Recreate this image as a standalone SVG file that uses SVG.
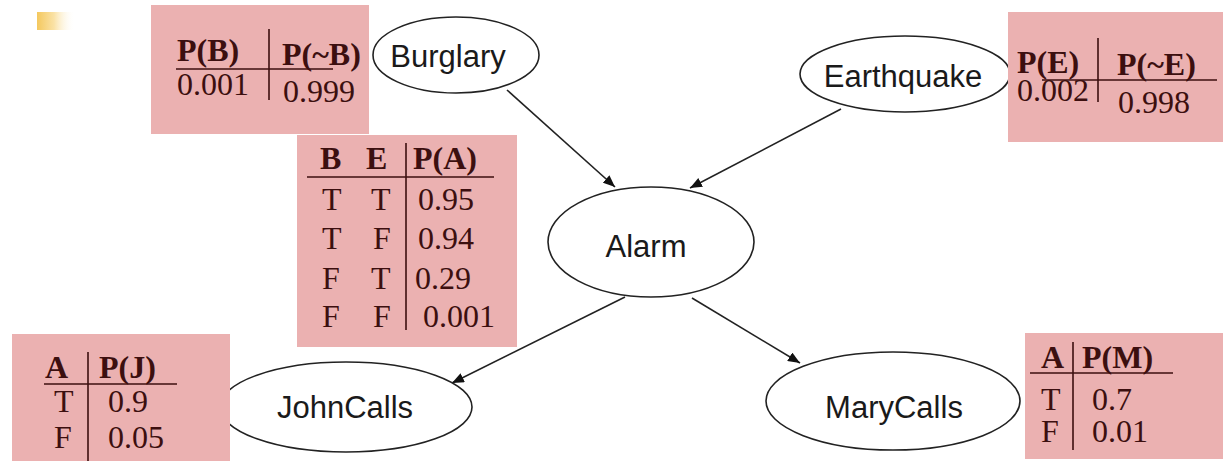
<svg xmlns="http://www.w3.org/2000/svg" width="1223" height="461" viewBox="0 0 1223 461">
  <defs>
    <linearGradient id="bulletGrad" x1="0" y1="0" x2="1" y2="0">
      <stop offset="0" stop-color="#f4c85e"/>
      <stop offset="0.45" stop-color="#fae2a6"/>
      <stop offset="1" stop-color="#ffffff" stop-opacity="0"/>
    </linearGradient>
    <marker id="arrow" viewBox="0 0 12 10" refX="12" refY="5" markerWidth="12" markerHeight="10" markerUnits="userSpaceOnUse" orient="auto">
      <path d="M0,0 L12,5 L0,10 Z" fill="#111"/>
    </marker>
  </defs>
  <style>
    .cpt { fill: #ebb1b1; }
    .rule { stroke: #3c0f0f; stroke-width: 1.6; fill: none; }
    .th { font-family: "Liberation Serif", "Times New Roman", serif; font-weight: bold; font-size: 32px; fill: #3c0f0f; }
    .td { font-family: "Liberation Serif", "Times New Roman", serif; font-size: 32px; fill: #3c0f0f; }
    .node ellipse { fill: #ffffff; stroke: #222; stroke-width: 1.6; }
    .node text { font-family: "Liberation Sans", Arial, sans-serif; font-size: 31px; fill: #1a1a1a; text-anchor: middle; }
    .edge { stroke: #222; stroke-width: 1.6; fill: none; marker-end: url(#arrow); }
  </style>

  <rect width="1223" height="461" fill="#ffffff"/>

  <!-- slide bullet -->
  <rect x="37" y="12" width="38" height="18" fill="url(#bulletGrad)"/>

  <!-- connectors -->
  <g id="edges">
    <line class="edge" x1="507" y1="90" x2="615" y2="187"/>
    <line class="edge" x1="841" y1="109" x2="690" y2="188"/>
    <line class="edge" x1="625" y1="297" x2="452" y2="383"/>
    <line class="edge" x1="692" y1="298" x2="800" y2="363"/>
  </g>

  <!-- nodes -->
  <g id="burglary" class="node">
    <ellipse cx="456" cy="55" rx="83" ry="38"/>
    <text x="448" y="67">Burglary</text>
  </g>
  <g id="earthquake" class="node">
    <ellipse cx="905" cy="74" rx="105" ry="38"/>
    <text x="903" y="87">Earthquake</text>
  </g>
  <g id="alarm" class="node">
    <ellipse cx="651" cy="242" rx="103" ry="55"/>
    <text x="646" y="257">Alarm</text>
  </g>
  <g id="johncalls" class="node">
    <ellipse cx="346" cy="407" rx="126" ry="45"/>
    <text x="345" y="418">JohnCalls</text>
  </g>
  <g id="marycalls" class="node">
    <ellipse cx="893" cy="401" rx="127" ry="49"/>
    <text x="894" y="418">MaryCalls</text>
  </g>

  <!-- conditional probability tables -->
  <g id="cpt-burglary">
    <rect class="cpt" x="151" y="5" width="218" height="129"/>
    <line class="rule" x1="176" y1="69" x2="333" y2="69"/>
    <line class="rule" x1="269" y1="29" x2="269" y2="100"/>
    <text class="th" x="177" y="61">P(B)</text>
    <text class="th" x="282" y="65">P(~B)</text>
    <text class="td" x="177" y="95">0.001</text>
    <text class="td" x="283" y="102">0.999</text>
  </g>

  <g id="cpt-earthquake">
    <rect class="cpt" x="1008" y="12" width="215" height="130"/>
    <line class="rule" x1="1042" y1="80" x2="1217" y2="80"/>
    <line class="rule" x1="1098" y1="38" x2="1098" y2="102"/>
    <text class="th" x="1017" y="73">P(E)</text>
    <text class="th" x="1117" y="75">P(~E)</text>
    <text class="td" x="1017" y="101">0.002</text>
    <text class="td" x="1118" y="113">0.998</text>
  </g>

  <g id="cpt-alarm">
    <rect class="cpt" x="297" y="135" width="220" height="212"/>
    <line class="rule" x1="307" y1="177" x2="494" y2="177"/>
    <line class="rule" x1="406" y1="143" x2="406" y2="330"/>
    <text class="th" x="320" y="169">B</text>
    <text class="th" x="366" y="169">E</text>
    <text class="th" x="413" y="169">P(A)</text>
    <text class="td" x="322" y="210">T</text>
    <text class="td" x="371" y="210">T</text>
    <text class="td" x="418" y="210">0.95</text>
    <text class="td" x="322" y="249">T</text>
    <text class="td" x="373" y="249">F</text>
    <text class="td" x="418" y="249">0.94</text>
    <text class="td" x="322" y="289">F</text>
    <text class="td" x="371" y="289">T</text>
    <text class="td" x="415" y="289">0.29</text>
    <text class="td" x="322" y="327">F</text>
    <text class="td" x="373" y="327">F</text>
    <text class="td" x="423" y="327">0.001</text>
  </g>

  <g id="cpt-johncalls">
    <rect class="cpt" x="12" y="334" width="218" height="127"/>
    <line class="rule" x1="44" y1="384" x2="177" y2="384"/>
    <line class="rule" x1="88" y1="352" x2="88" y2="461"/>
    <text class="th" x="45" y="378">A</text>
    <text class="th" x="99" y="378">P(J)</text>
    <text class="td" x="54" y="412">T</text>
    <text class="td" x="108" y="412">0.9</text>
    <text class="td" x="54" y="448">F</text>
    <text class="td" x="108" y="448">0.05</text>
  </g>

  <g id="cpt-marycalls">
    <rect class="cpt" x="1025" y="333" width="198" height="126"/>
    <line class="rule" x1="1030" y1="373" x2="1173" y2="373"/>
    <line class="rule" x1="1073" y1="342" x2="1073" y2="450"/>
    <text class="th" x="1041" y="368">A</text>
    <text class="th" x="1082" y="368">P(M)</text>
    <text class="td" x="1041" y="410">T</text>
    <text class="td" x="1092" y="410">0.7</text>
    <text class="td" x="1041" y="442">F</text>
    <text class="td" x="1092" y="442">0.01</text>
  </g>
</svg>
